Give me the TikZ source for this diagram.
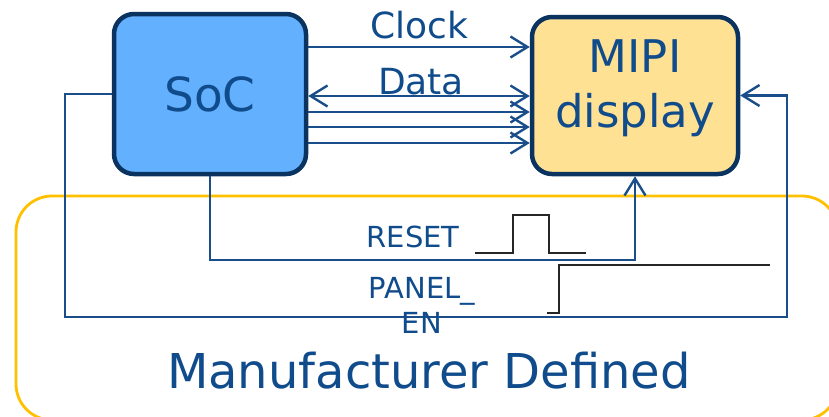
\documentclass[tikz,border=0pt]{standalone}
\usepackage{fontspec}
\setmainfont{DejaVu Sans}
\usetikzlibrary{arrows.meta}

\definecolor{socblue}{HTML}{63B0FF}
\definecolor{mipiyellow}{HTML}{FFE194}
\definecolor{edgeblue}{HTML}{0B3360}
\definecolor{wireblue}{HTML}{1A4E8A}
\definecolor{txtblue}{HTML}{104C8C}
\definecolor{mfgyellow}{HTML}{FFC000}

\newcommand{\sigfont}{\fontsize{29}{35}\selectfont}
\newcommand{\busfont}{\fontsize{36}{43}\selectfont}

\begin{document}
\begin{tikzpicture}[x=1pt, y=-1pt,
    block/.style={rectangle, draw=edgeblue, line width=4.5pt, rounded corners=20pt, inner sep=0pt, text=txtblue},
    wire/.style={draw=wireblue, line width=2.4pt},
    >={Straight Barb[length=17pt, width=21pt]},
    lbl/.style={text=txtblue, inner sep=0pt},
    wave/.style={draw=black!85, line width=2.4pt}]
  \useasboundingbox (0,0) rectangle (829,416);

  % area left to the panel maker
  \draw[mfgyellow, line width=2.8pt, rounded corners=36pt] (16,196) rectangle (838,420);
  \node (mfg) [lbl, anchor=base, font=\fontsize{48}{58}\selectfont] at (429,388) {Manufacturer Defined};

  \node (soc) [block, fill=socblue, minimum width=192pt, minimum height=160pt,
    font=\fontsize{47}{56}\selectfont] at (210,94) {SoC};
  \node (mipi) [block, fill=mipiyellow, minimum width=206pt, minimum height=157pt,
    align=center, text depth=23pt, font=\fontsize{45}{55}\selectfont] at (635,95.5) {MIPI\\display};

  % clock and data lanes
  \path ([yshift=47pt]soc.east) coordinate (clk);
  \draw[wire, ->] (clk) -- (clk -| mipi.west)
    node [lbl, midway, anchor=base, yshift=9pt, font=\busfont] {Clock};
  \path ([yshift=-2pt]soc.east) coordinate (dat);
  \draw[wire, <->] (dat) -- (dat -| mipi.west)
    node [lbl, midway, anchor=base, yshift=2pt, xshift=2pt, font=\busfont] {Data};
  \foreach \dy [count=\i] in {-18,-33,-49} {
    \path ([yshift=\dy pt]soc.east) coordinate (bus\i);
    \draw[wire, ->] (bus\i) -- (bus\i -| mipi.west);
  }

  % reset
  \coordinate (rst) at (400,260);
  \draw[wire, ->] (soc.south) |- (rst) -| (mipi.south);
  \node (reset) [lbl, anchor=base, font=\sigfont] at (413,247) {RESET};
  \draw[wave] (475,253) -- (513,253) -- (513,215) -- (549,215) -- (549,253) -- (586,253);

  % panel enable
  \coordinate (enl) at (65,317);
  \coordinate (enr) at (787,317);
  \draw[wire, ->] (soc.west) -| (enl) -- (enr) |- (mipi.east);
  \node (en) [lbl, anchor=base, align=center, font=\sigfont] at (422,333) {PANEL\_\\EN};
  \draw[wave] (547,313) -- (559,313) -- (559,265) -- (770,265);
\end{tikzpicture}
\end{document}
